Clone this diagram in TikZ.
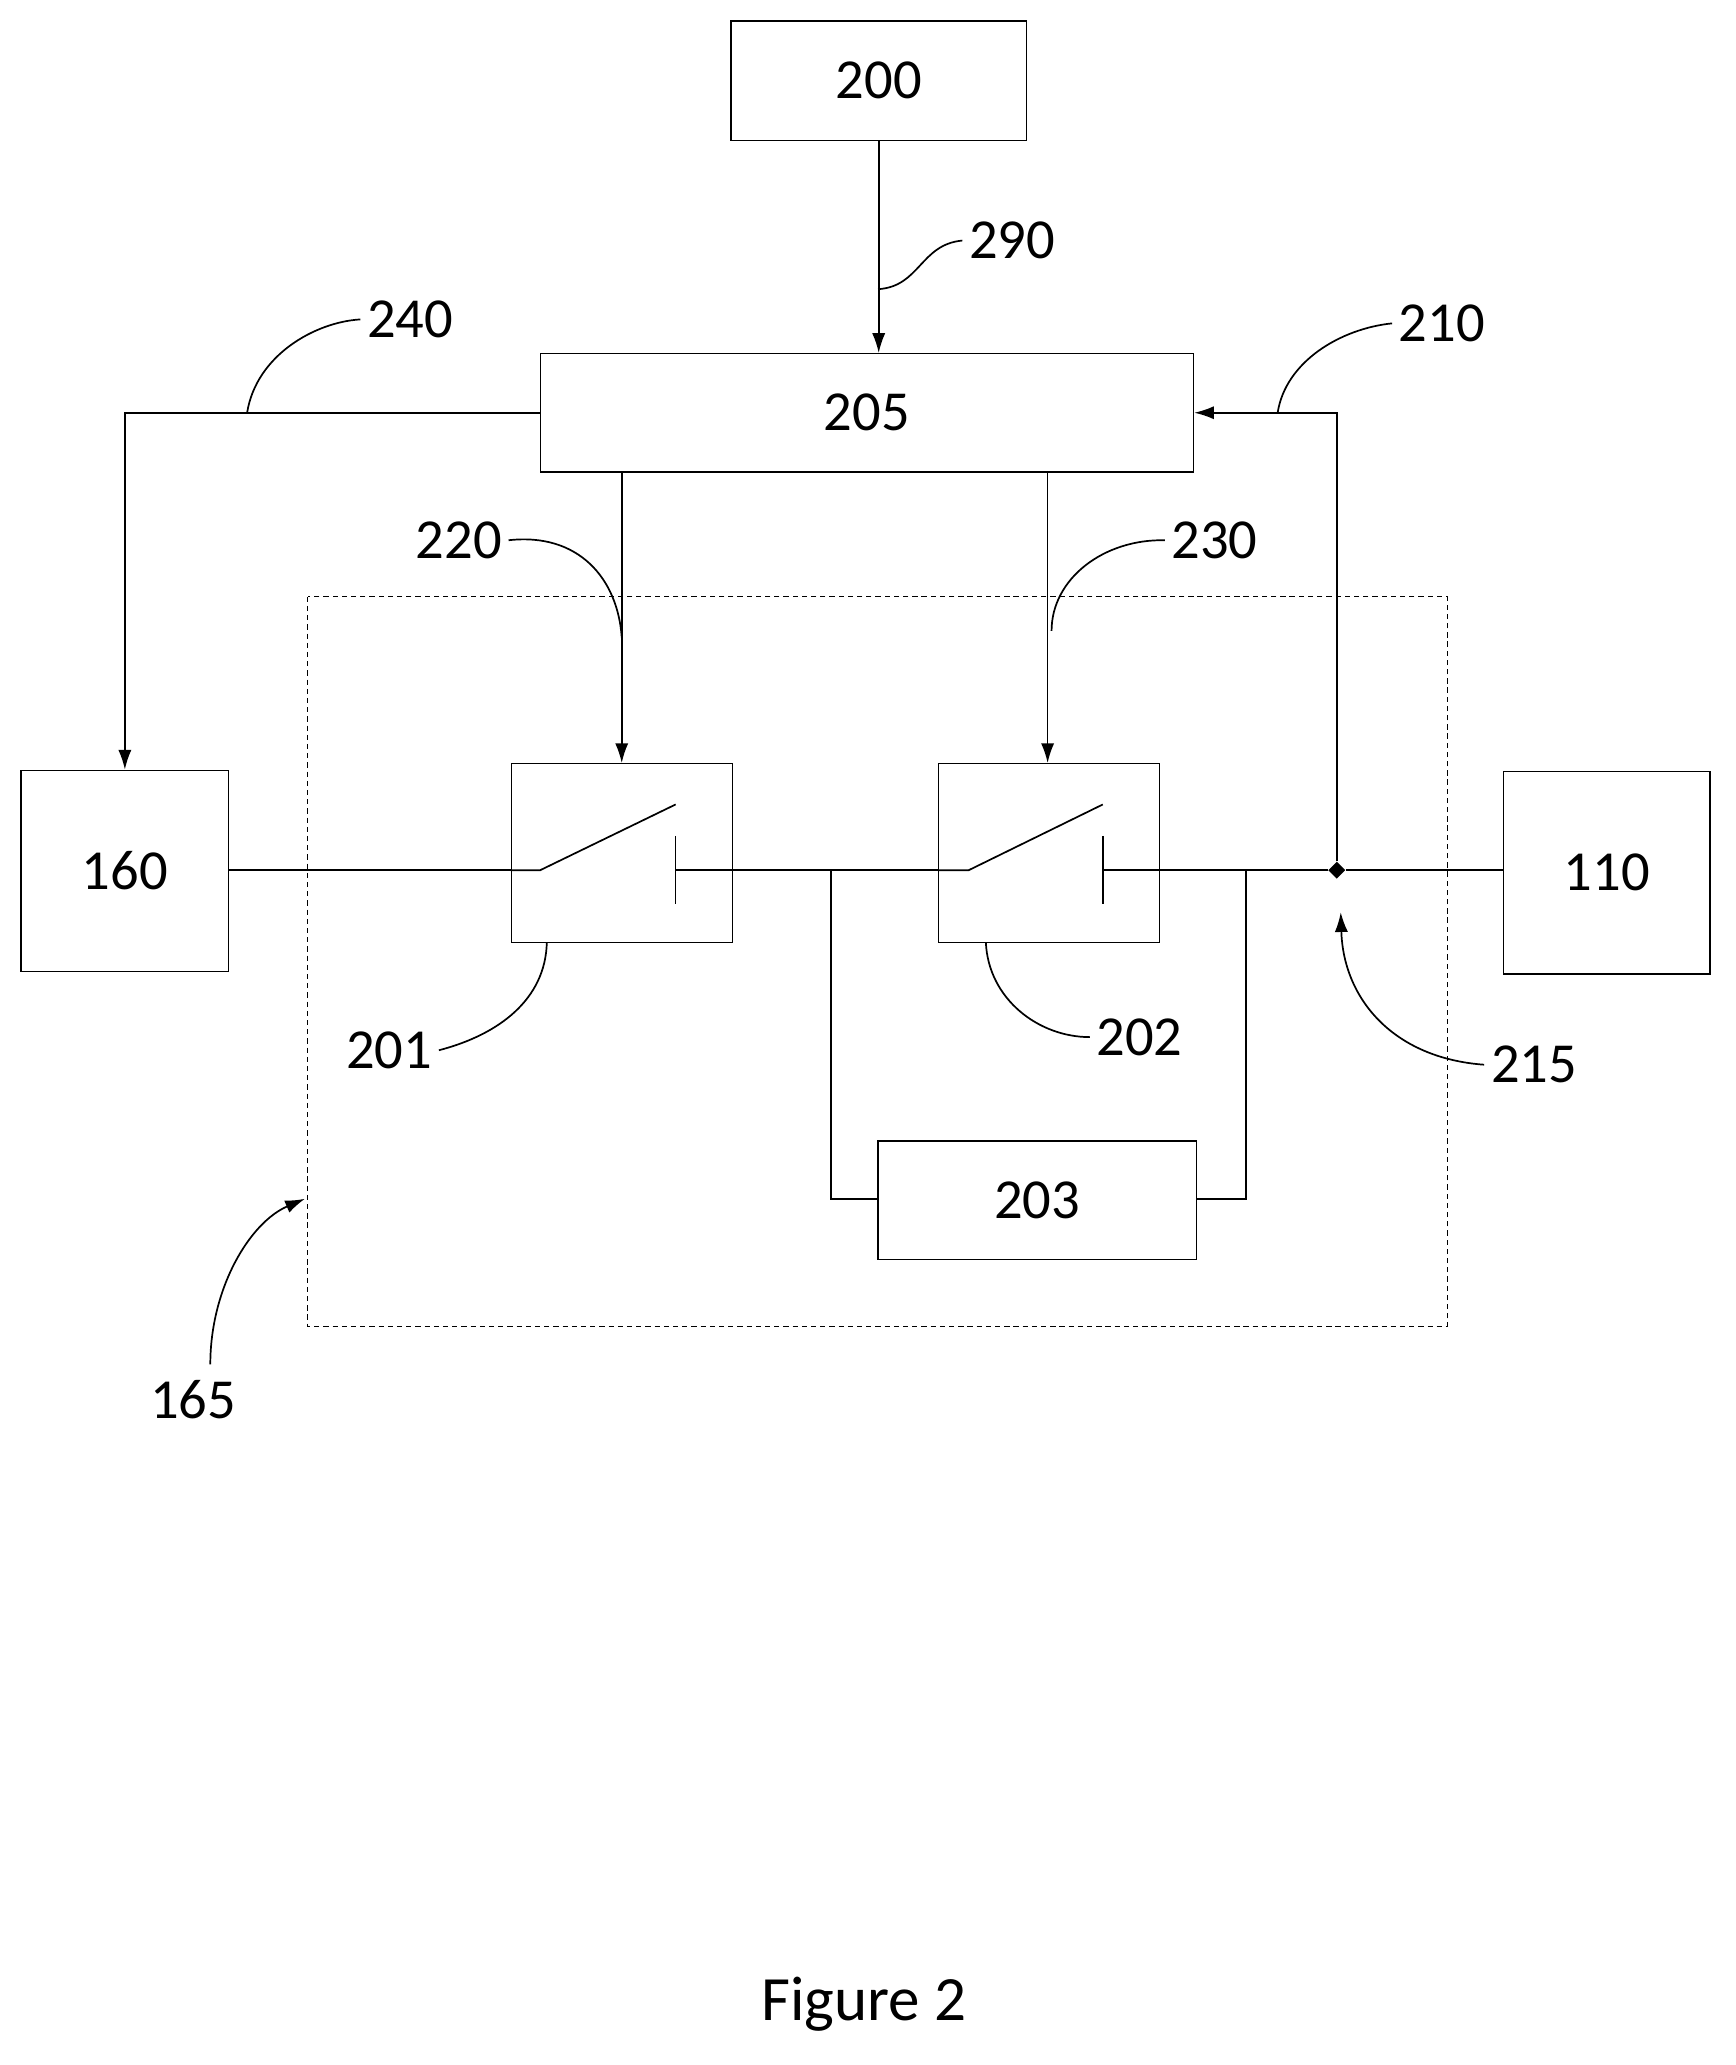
\documentclass[tikz,border=0pt]{standalone}
\usepackage{fontspec}
\setmainfont{Carlito}
\usetikzlibrary{arrows.meta,shapes.geometric}
\tikzset{
  blk/.style={draw,line width=1pt,inner sep=0pt},
  lbl/.style={inner sep=5pt},
  wire/.style={line width=1.3pt},
  arr/.style={wire,-{Latex[length=15pt,width=10pt]}},
  lead/.style={line width=1.3pt}
}
\begin{document}
\begin{tikzpicture}[x=1pt,y=-1pt,font=\fontsize{43}{47}\selectfont]
  \useasboundingbox (0,0) rectangle (1320,1571);
  % boxes
  \node[blk,minimum width=225pt,minimum height=91pt] (b200) at (668.5,61.5) {200};
  \node[blk,minimum width=497pt,minimum height=90pt] (b205) at (659.5,314) {205};
  \node[blk,minimum width=158pt,minimum height=153pt] (b160) at (95,662.5) {160};
  \node[blk,minimum width=157pt,minimum height=154pt] (b110) at (1222.5,664) {110};
  \node[blk,minimum width=168pt,minimum height=136pt] (s201) at (473,649) {};
  \node[blk,minimum width=168pt,minimum height=136pt] (s202) at (798,649) {};
  \node[blk,minimum width=242pt,minimum height=90pt] (b203) at (789,913) {203};
  \draw[line width=1pt,dash pattern=on 4pt off 3pt] (234,454) rectangle (1101,1009);
  \node[diamond,fill,inner sep=0pt,minimum size=13pt] (j215) at (1017,662) {};
  % switch contacts
  \draw[wire] (s201.west|-0,662) -- (411,662) -- (514,612);
  \draw[wire] (514,636) -- (514,688);
  \draw[wire] (s202.west|-0,662) -- (737,662) -- (839,612);
  \draw[wire] (839,636) -- (839,688);
  % main line
  \draw[wire] (b160.east|-0,662) -- (s201.west|-0,662);
  \draw[wire] (514,662) -- (s202.west|-0,662);
  \draw[wire] (839,662) -- (j215) -- (b110.west|-0,662);
  % bypass through 203
  \draw[wire] (632,662) -- (632,912) -- (b203.west|-0,912);
  \draw[wire] (948,662) -- (948,912) -- (b203.east|-0,912);
  % control lines
  \draw[arr] (b200) -- (b205.north-|b200);
  \draw[arr] (b205.west) -- (95,314) -- (b160.north-|95,0);
  \draw[arr] (j215) -- (1017,314) -- (b205.east);
  \draw[arr] (b205.south-|473,0) -- (s201.north);
  \draw[arr] (b205.south-|797,0) -- (s202.north-|797,0);
  % labels
  \node[lbl] (l290) at (770,183) {290};
  \draw[lead] (668,220) .. controls (700,218) and (700,186) .. (l290.west);
  \node[lbl] (l240) at (312,243) {240};
  \draw[lead] (188,314) .. controls (195,270) and (240,245) .. (l240.west);
  \node[lbl] (l210) at (1097,246) {210};
  \draw[lead] (972,314) .. controls (978,275) and (1020,250) .. (l210.west);
  \node[lbl] (l220) at (349,411) {220};
  \draw[lead] (l220.east) .. controls (440,405) and (470,440) .. (473,485);
  \node[lbl] (l230) at (924,411) {230};
  \draw[lead] (800,480) .. controls (800,440) and (840,410) .. (l230.west);
  \node[lbl] (l201) at (296,799) {201};
  \draw[lead] (416,717) .. controls (415,760) and (380,787) .. (l201.east);
  \node[lbl] (l202) at (867,789) {202};
  \draw[lead] (750,717) .. controls (752,760) and (790,789) .. (l202.west);
  \node[lbl] (l215) at (1167,810) {215};
  \draw[arr] (l215.west) .. controls (1060,805) and (1022,760) .. (1020,694);
  \node[lbl] (l165) at (147,1065) {165};
  \draw[arr] (160,1038) .. controls (160,980) and (190,930) .. (232,912);
  \node[lbl,font=\fontsize{48}{52}\selectfont] (fig) at (657,1525) {Figure 2};
\end{tikzpicture}
\end{document}
